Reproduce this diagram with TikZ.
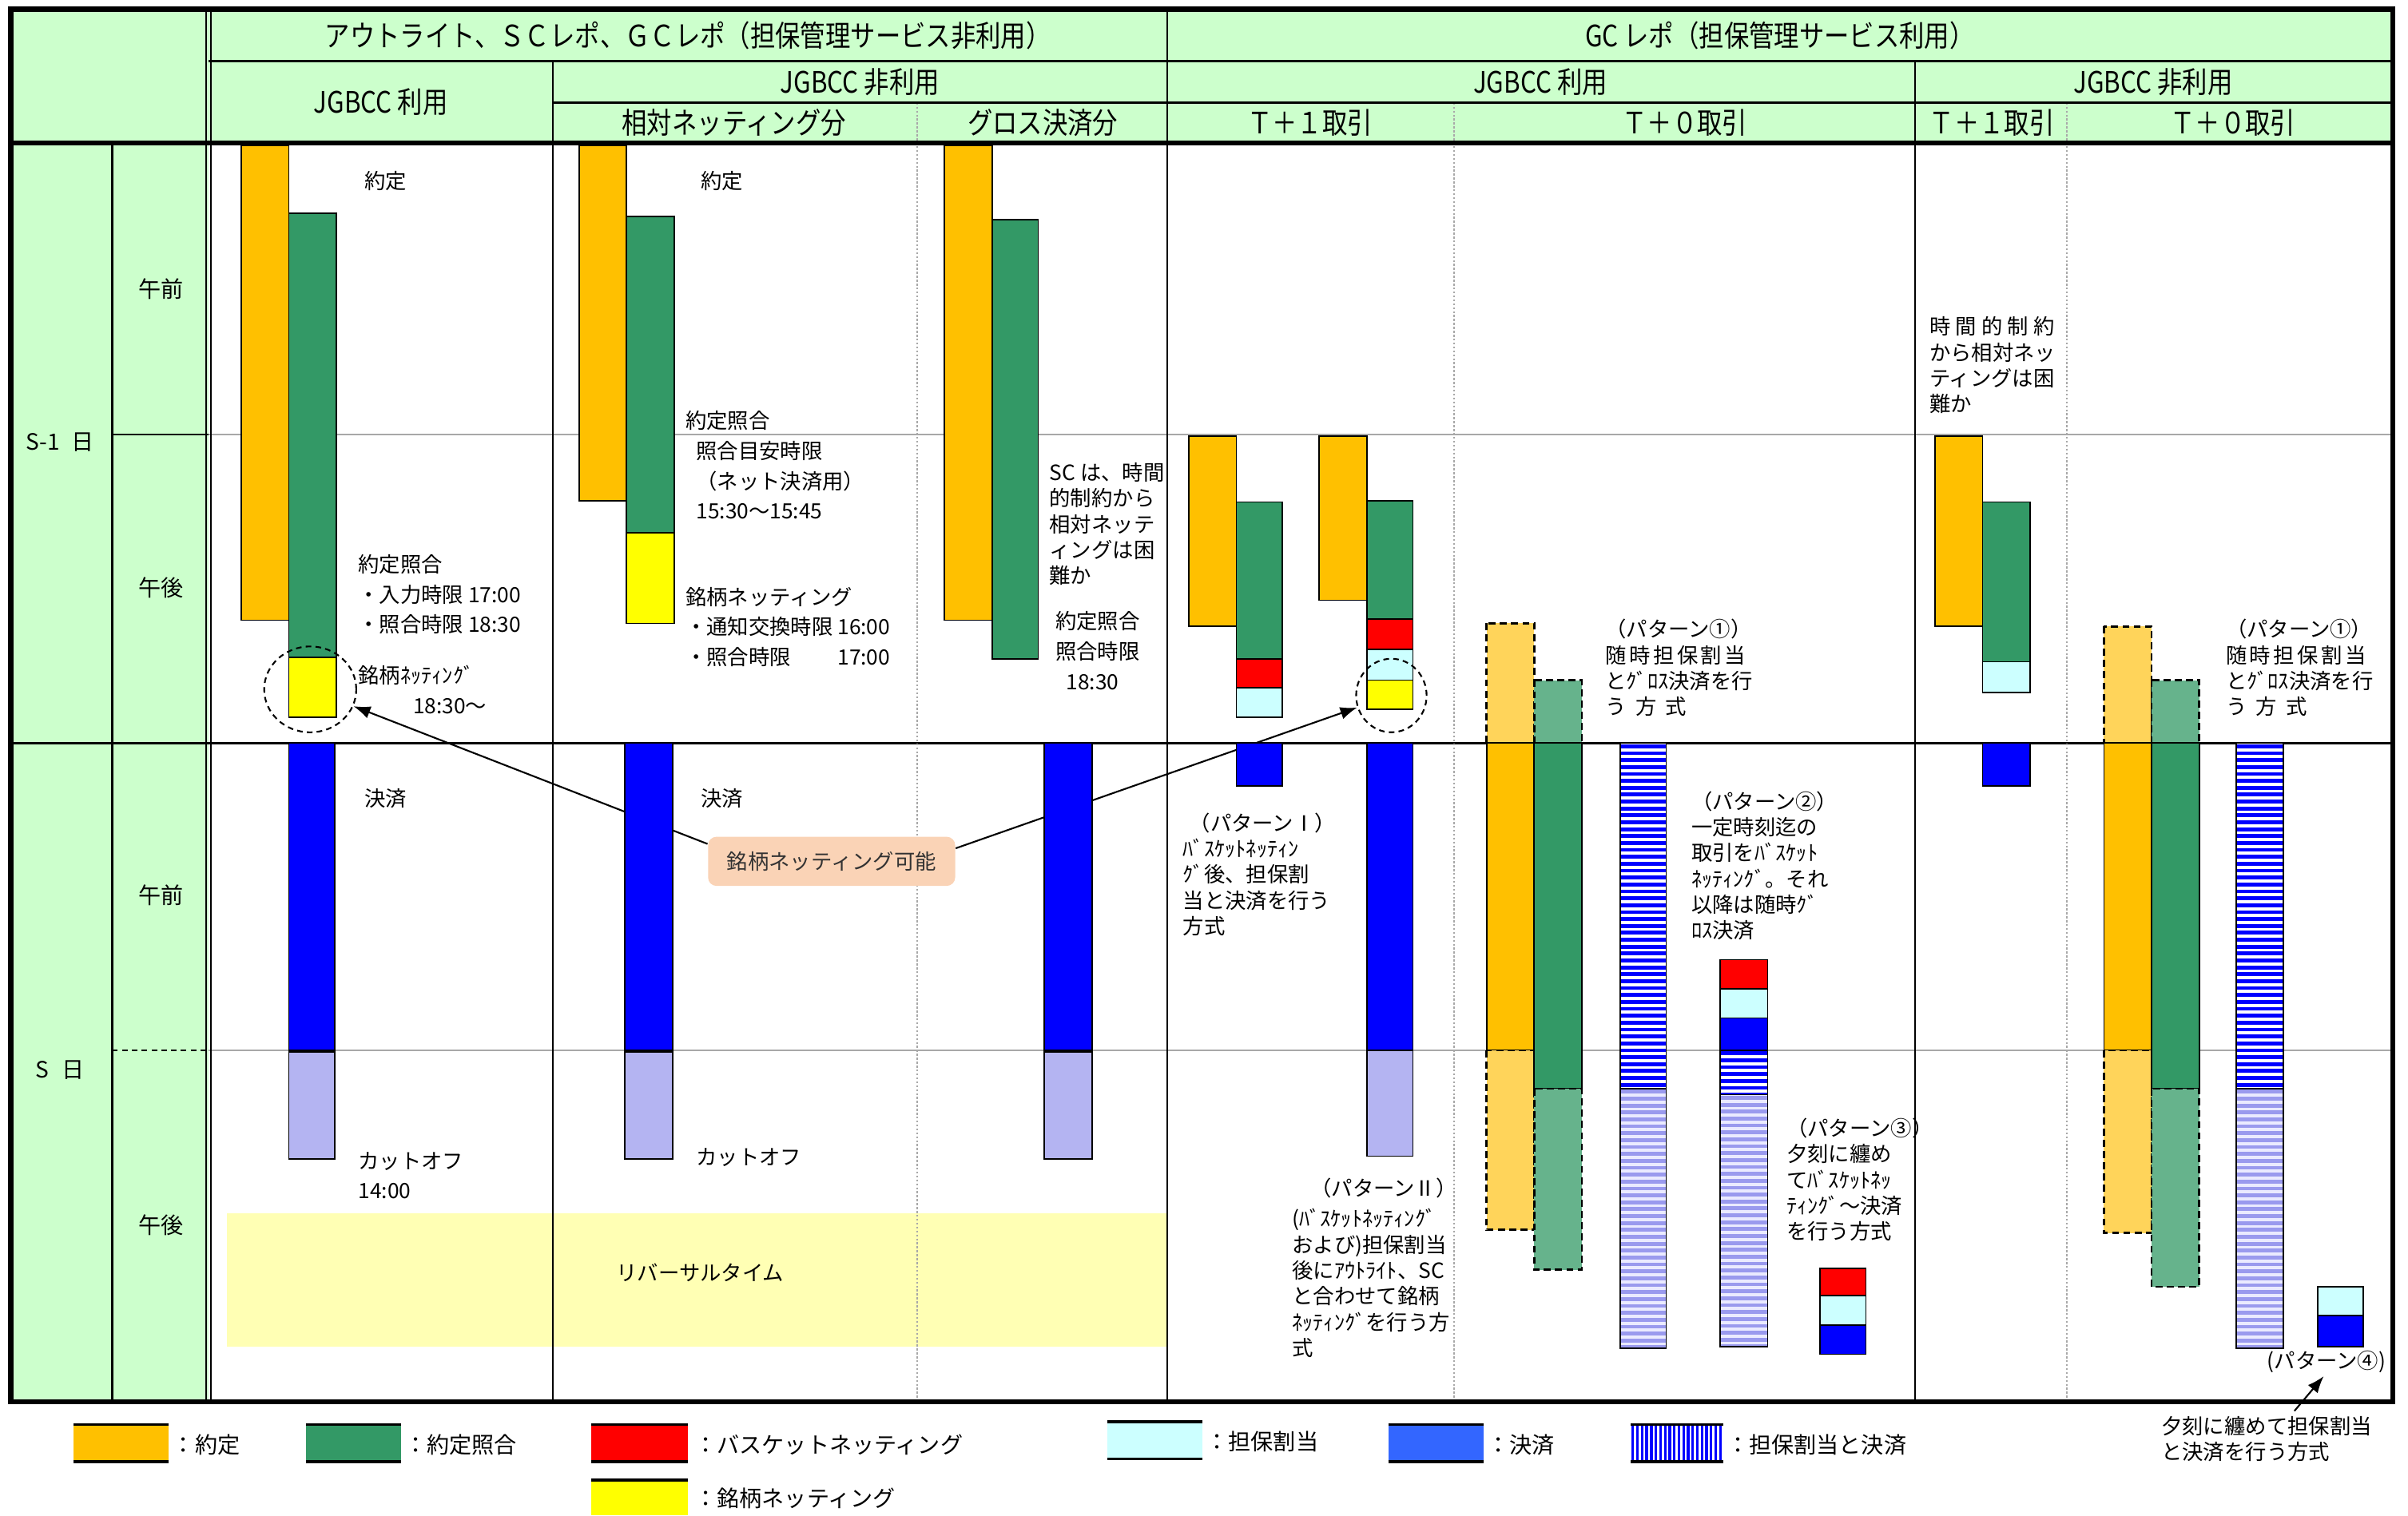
\documentclass[tikz,border=0pt]{standalone}
\usepackage{fontspec}
\newfontfamily\jp{Noto Sans CJK JP}
\newfontfamily\jpc[FakeStretch=0.85]{Noto Sans CJK JP}
\usetikzlibrary{arrows.meta,shapes.geometric}
\pgfdeclarelayer{back}
\pgfdeclarelayer{mid}
\pgfsetlayers{back,mid,main}
\definecolor{cOr}{HTML}{FFC000}
\definecolor{cGr}{HTML}{339966}
\definecolor{cRd}{HTML}{FF0000}
\definecolor{cYe}{HTML}{FFFF00}
\definecolor{cCy}{HTML}{CCFFFF}
\definecolor{cBl}{HTML}{0000FF}
\definecolor{cLB}{HTML}{3366FF}
\definecolor{cHd}{HTML}{CCFFCC}
\definecolor{cCut}{HTML}{B4B4F2}
\definecolor{cBand}{HTML}{FFFFB4}
\definecolor{cPeach}{HTML}{FAD3B6}
\definecolor{cOrL}{HTML}{FFD45A}
\definecolor{cGrL}{HTML}{66B38C}
\definecolor{cStr}{HTML}{9A9AEE}
\definecolor{cStrBg}{HTML}{EAEAFF}
\definecolor{cGrid}{HTML}{A8A8A8}
\newcommand\stripeh[6]{%
  \fill[#6] (#1,#2) rectangle (#3,#4);
  \begin{scope}
    \clip (#1,#2) rectangle (#3,#4);
    \foreach \k in {0,...,50}{\fill[#5] (#1,{#2+\k*4.5+0.8}) rectangle (#3,{#2+\k*4.5+3.3});}
  \end{scope}
  \draw[bar] (#1,#2) rectangle (#3,#4);}
\newcommand\spreadline[2]{\makebox[#1][s]{#2}}
\begin{document}
\begin{tikzpicture}[x=0.019222cm,y=-0.019222cm,
  bar/.style={draw=black, line width=0.5pt},
  dbar/.style={draw=black, line width=0.7pt, dash pattern=on 2.5pt off 1.5pt},
  gl/.style={draw=cGrid, line width=0.5pt},
  dl/.style={draw=cGrid, line width=0.6pt, dash pattern=on 0.7pt off 0.7pt},
  hdr/.style={inner sep=0pt, font=\jpc\fontsize{10.5}{12}\selectfont},
  lbl/.style={inner sep=0pt, font=\jp\fontsize{8}{10}\selectfont},
  txt/.style={inner sep=0pt, anchor=north west, align=left, font=\jp\fontsize{7.5}{10.7}\selectfont},
  stx/.style={inner sep=0pt, anchor=west, font=\jp\fontsize{7.5}{10.7}\selectfont},
  ptx/.style={inner sep=0pt, anchor=north west, align=left, font=\jp\fontsize{7.5}{9.2}\selectfont},
  leg/.style={inner sep=0pt, anchor=west, font=\jp\fontsize{8}{10}\selectfont},
  circ/.style={ellipse, draw=black, line width=0.6pt, dash pattern=on 2pt off 1.5pt, inner sep=0pt},
  arr/.style={draw=black, line width=0.6pt, -{Latex[length=6pt,width=4.5pt]}}]
\useasboundingbox (0,0) rectangle (1568,987);

\begin{pgfonlayer}{back}
\fill[cHd] (7,6) rectangle (1558,93);
\fill[cHd] (7,93) rectangle (136,913);
\fill[cBand] (148,790) rectangle (760,877);
% body grid
\draw[gl] (136,283) -- (1558,283);
\draw[gl] (136,684) -- (1558,684);
\draw[black, line width=0.5pt] (73,283) -- (136,283);
\draw[black, line width=0.5pt, dash pattern=on 2pt off 1.5pt] (73,684) -- (136,684);
\draw[black, line width=0.7pt] (7,484) -- (1558,484);
\draw[black, line width=0.7pt] (73,93) -- (73,913);
\draw[black, line width=0.7pt] (360,40) -- (360,913);
\draw[black, line width=0.7pt] (760,6) -- (760,913);
\draw[black, line width=0.7pt] (1247,40) -- (1247,913);
\draw[dl] (597,67) -- (597,913);
\draw[dl] (947,67) -- (947,913);
\draw[dl] (1346,67) -- (1346,913);
\draw[black, line width=0.8pt] (136,40) -- (1558,40);
\draw[black, line width=0.8pt] (360,67) -- (1558,67);
\draw[black, line width=0.5pt] (134.3,6) -- (134.3,913);
\draw[black, line width=0.5pt] (137.5,6) -- (137.5,913);
\draw[black, line width=1.6pt] (7,93) -- (1558,93);
\end{pgfonlayer}

% ---------- column 1
\draw[bar, fill=cOr] (157,95) rectangle (188,404);
\draw[bar, fill=cGr] (188,139) rectangle (219,428);
\draw[bar, fill=cYe] (188,428) rectangle (219,467);
\draw[bar, fill=cBl] (188,484) rectangle (218,684);
\draw[bar, fill=cCut] (188,685) rectangle (218,755);
% ---------- column 2
\draw[bar, fill=cOr] (377,95) rectangle (408,326);
\draw[bar, fill=cGr] (408,141) rectangle (439,347);
\draw[bar, fill=cYe] (408,347) rectangle (439,406);
\draw[bar, fill=cBl] (407,484) rectangle (438,684);
\draw[bar, fill=cCut] (407,685) rectangle (438,755);
% ---------- column 3
\draw[bar, fill=cOr] (615,95) rectangle (646,404);
\draw[bar, fill=cGr] (646,143) rectangle (676,429);
\draw[bar, fill=cBl] (680,484) rectangle (711,684);
\draw[bar, fill=cCut] (680,685) rectangle (711,755);
% ---------- column 4
\draw[bar, fill=cOr] (774,284) rectangle (805,408);
\draw[bar, fill=cGr] (805,327) rectangle (835,429);
\draw[bar, fill=cRd] (805,429) rectangle (835,448);
\draw[bar, fill=cCy] (805,448) rectangle (835,467);
\draw[bar, fill=cBl] (805,484) rectangle (835,512);
\draw[bar, fill=cOr] (859,284) rectangle (890,391);
\draw[bar, fill=cGr] (890,326) rectangle (920,403);
\draw[bar, fill=cRd] (890,403) rectangle (920,423);
\draw[bar, fill=cCy] (890,423) rectangle (920,443);
\draw[bar, fill=cYe] (890,443) rectangle (920,462);
\draw[bar, fill=cBl] (890,484) rectangle (920,684);
\draw[bar, fill=cCut] (890,684) rectangle (920,753);
% ---------- column 5
\draw[dbar, fill=cOrL] (968,406) rectangle (999,484);
\draw[bar, fill=cOr] (968,484) rectangle (999,684);
\draw[dbar, fill=cOrL] (968,684) rectangle (999,801);
\draw[dbar, fill=cGrL] (999,443) rectangle (1030,484);
\draw[bar, fill=cGr] (999,484) rectangle (1030,709);
\draw[dbar, fill=cGrL] (999,709) rectangle (1030,827);
\stripeh{1055}{484}{1085}{709}{cBl}{white}
\stripeh{1055}{709}{1085}{878}{cStr}{cStrBg}
\draw[bar, fill=cRd] (1120,625) rectangle (1151,644);
\draw[bar, fill=cCy] (1120,644) rectangle (1151,663);
\draw[bar, fill=cBl] (1120,663) rectangle (1151,684);
\stripeh{1120}{684}{1151}{713}{cBl}{white}
\stripeh{1120}{713}{1151}{877}{cStr}{cStrBg}
\draw[bar, fill=cRd] (1185,826) rectangle (1215,844);
\draw[bar, fill=cCy] (1185,844) rectangle (1215,863);
\draw[bar, fill=cBl] (1185,863) rectangle (1215,882);
% ---------- column 6
\draw[bar, fill=cOr] (1260,284) rectangle (1291,408);
\draw[bar, fill=cGr] (1291,327) rectangle (1322,431);
\draw[bar, fill=cCy] (1291,431) rectangle (1322,451);
\draw[bar, fill=cBl] (1291,484) rectangle (1322,512);
% ---------- column 7
\draw[dbar, fill=cOrL] (1370,408) rectangle (1401,484);
\draw[bar, fill=cOr] (1370,484) rectangle (1401,684);
\draw[dbar, fill=cOrL] (1370,684) rectangle (1401,803);
\draw[dbar, fill=cGrL] (1401,443) rectangle (1432,484);
\draw[bar, fill=cGr] (1401,484) rectangle (1432,709);
\draw[dbar, fill=cGrL] (1401,709) rectangle (1432,838);
\stripeh{1456}{484}{1487}{709}{cBl}{white}
\stripeh{1456}{709}{1487}{878}{cStr}{cStrBg}
\draw[bar, fill=cCy] (1509,838) rectangle (1539,857);
\draw[bar, fill=cBl] (1509,857) rectangle (1539,877);

% ---------- header texts
\node[hdr] (h1a) at (448,23) {アウトライト、ＳＣレポ、ＧＣレポ（担保管理サービス非利用）};
\node[hdr] (h1b) at (1159,23) {GC レポ（担保管理サービス利用）};
\node[hdr] (h2a) at (248,66.5) {JGBCC 利用};
\node[hdr] (h2b) at (560,53.5) {JGBCC 非利用};
\node[hdr] (h2c) at (1003,53.5) {JGBCC 利用};
\node[hdr] (h2d) at (1402,53.5) {JGBCC 非利用};
\node[hdr] (h3a) at (478,80) {相対ネッティング分};
\node[hdr] (h3b) at (679,80) {グロス決済分};
\node[hdr] (h3c) at (853,80) {Ｔ＋１取引};
\node[hdr] (h3d) at (1097,80) {Ｔ＋０取引};
\node[hdr] (h3e) at (1297,80) {Ｔ＋１取引};
\node[hdr] (h3f) at (1454,80) {Ｔ＋０取引};
% ---------- row labels
\node[lbl] (d1) at (39,288) {S-1\hspace{0.5em}日};
\node[lbl] (d2) at (39,697) {S\hspace{0.6em}日};
\node[lbl] (r1) at (105,188) {午前};
\node[lbl] (r2) at (105,383) {午後};
\node[lbl] (r3) at (105,583) {午前};
\node[lbl] (r4) at (105,798) {午後};

% ---------- column texts
\node[stx] (t1a) at (237,118) {約定};
\node[txt] (t1b) at (233,361) {約定照合\\・入力時限 17:00\\・照合時限 18:30};
\node[txt] (t1c) at (233,433) {銘柄ﾈｯﾃｨﾝｸﾞ\\\hspace*{2.6em}18:30～};
\node[stx] (t1d) at (237,520) {決済};
\node[txt] (t1e) at (233,750) {カットオフ\\14:00};
\node[stx] (t2a) at (456,118) {約定};
\node[stx] (t2b) at (446,274) {約定照合};
\node[txt] (t2c) at (453,287) {照合目安時限\\（ネット決済用）\\15:30～15:45};
\node[txt] (t2d) at (446,382) {銘柄ネッティング\\・通知交換時限 16:00\\・照合時限　　 17:00};
\node[stx] (t2e) at (456,520) {決済};
\node[stx] (t2f) at (453,754) {カットオフ};
\node[ptx] (t3a) at (683,301) {SC は、時間\\的制約から\\相対ネッテ\\ィングは困\\難か};
\node[txt] (t3b) at (687,398) {約定照合\\照合時限\\\hspace*{0.5em}18:30};
\node[stx] (rt) at (401,829) {リバーサルタイム};
\node[ptx] (t4a) at (770,529) {\hspace*{0.3em}（パターンⅠ）\\ﾊﾞｽｹｯﾄﾈｯﾃｨﾝ\\ｸﾞ後、担保割\\当と決済を行う\\方式};
\node[stx] (t4b) at (853,774) {（パターンⅡ）};
\node[ptx] (t4c) at (841,787) {(ﾊﾞｽｹｯﾄﾈｯﾃｨﾝｸﾞ\\および)担保割当\\後にｱｳﾄﾗｲﾄ、SC\\と合わせて銘柄\\ﾈｯﾃｨﾝｸﾞを行う方\\式};
\node[ptx] (t5a) at (1045,403) {（パターン①）\\\spreadline{50pt}{随\hfil 時\hfil 担\hfil 保\hfil 割\hfil 当}\\とｸﾞﾛｽ決済を行\\\spreadline{29pt}{う\hfil 方\hfil 式}};
\node[ptx] (t5b) at (1101,515) {（パターン②）\\一定時刻迄の\\取引をﾊﾞｽｹｯﾄ\\ﾈｯﾃｨﾝｸﾞ。それ\\以降は随時ｸﾞ\\ﾛｽ決済};
\node[ptx] (t5c) at (1163,728) {（パターン③）\\夕刻に纏め\\てﾊﾞｽｹｯﾄﾈｯ\\ﾃｨﾝｸﾞ～決済\\を行う方式};
\node[ptx] (t6a) at (1256,206) {\spreadline{44.5pt}{時\hfil 間\hfil 的\hfil 制\hfil 約}\\から相対ネッ\\ティングは困\\難か};
\node[ptx] (t7a) at (1449,403) {（パターン①）\\\spreadline{50pt}{随\hfil 時\hfil 担\hfil 保\hfil 割\hfil 当}\\とｸﾞﾛｽ決済を行\\\spreadline{29pt}{う\hfil 方\hfil 式}};
\node[stx] (p4) at (1476,887) {(パターン④)};
\node[ptx] (p4n) at (1407,922) {夕刻に纏めて担保割当\\と決済を行う方式};

% ---------- callout and circles
\node[fill=cPeach, rounded corners=3pt, minimum width=88pt, minimum height=17.5pt, inner sep=0pt,
      font=\jp\fontsize{7.5}{9}\selectfont, text=black!80] (cb) at (541.5,561) {銘柄ネッティング可能};
\node[circ, minimum width=32.8pt, minimum height=30.6pt] (c1) at (202,449) {};
\node[circ, minimum width=25.1pt, minimum height=26.2pt] (c2) at (906,453) {};
\coordinate (p4tail) at (1494,919);
\begin{pgfonlayer}{mid}
\draw[arr] (cb.172) -- (c1);
\draw[arr] (cb.6) -- (c2);
\end{pgfonlayer}
\draw[arr] (p4tail) -- ([xshift=-1pt,yshift=-1pt]p4.south);

% ---------- frame
\draw[black, line width=1.8pt] (7,6) rectangle (1558,913);

% ---------- legend
\fill[cOr] (48,928) rectangle (110,952);
\fill[cGr] (199,928) rectangle (261,952);
\fill[cRd] (385,928) rectangle (448,952);
\fill[cCy] (721,926) rectangle (783,950);
\fill[cLB] (904,928) rectangle (966,952);
\fill[white] (1062,928) rectangle (1122,952);
\foreach \k in {0,...,19}{\fill[cBl] ({1062+\k*3+0.4},928) rectangle ({1062+\k*3+2.1},952);}
\fill[cYe] (385,964) rectangle (448,987);
\foreach \xa/\xb/\ya/\yb in {48/110/928/952, 199/261/928/952, 385/448/928/952, 721/783/926/950, 904/966/928/952, 1062/1122/928/952}{
  \draw[black, line width=0.9pt] (\xa,\ya) -- (\xb,\ya);
  \draw[black, line width=0.9pt] (\xa,\yb) -- (\xb,\yb);}
\draw[black, line width=0.9pt] (385,964) -- (448,964);
\node[leg] (l1) at (112,941) {：約定};
\node[leg] (l2) at (263,941) {：約定照合};
\node[leg] (l3) at (452,941) {：バスケットネッティング};
\node[leg] (l4) at (785,939) {：担保割当};
\node[leg] (l5) at (968,941) {：決済};
\node[leg] (l6) at (1124,941) {：担保割当と決済};
\node[leg] (l7) at (452,976) {：銘柄ネッティング};
\end{tikzpicture}
\end{document}
